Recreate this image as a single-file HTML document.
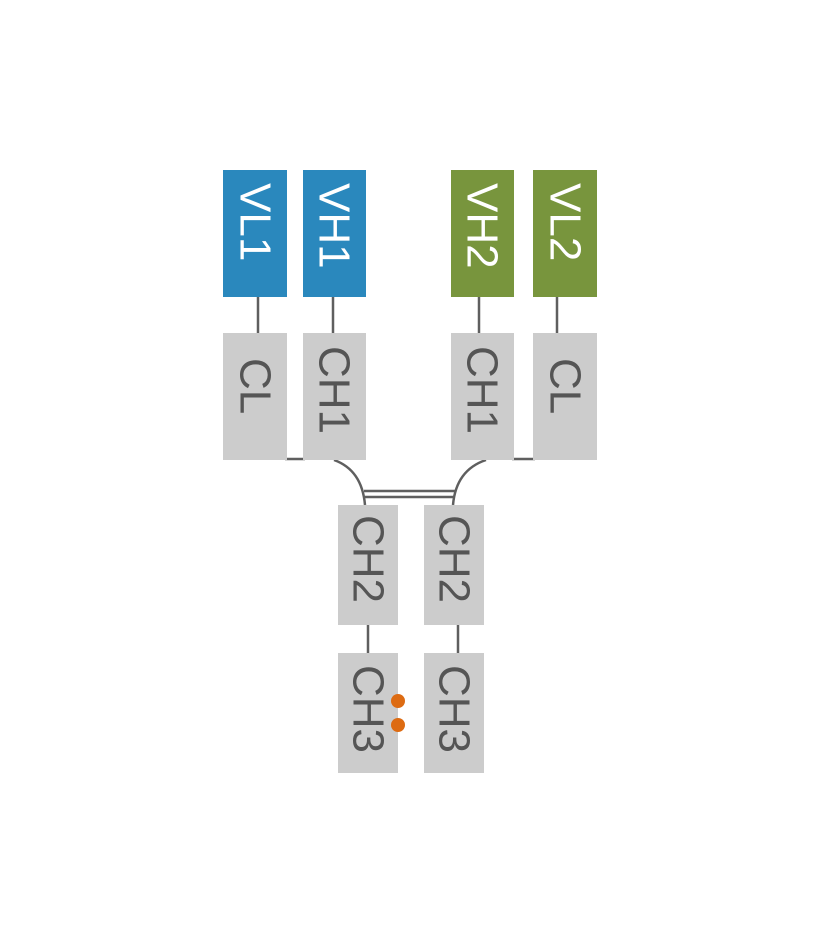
<!DOCTYPE html>
<html><head><meta charset="utf-8"><style>body{margin:0;background:#fff}</style></head>
<body>
<svg width="820" height="945" viewBox="0 0 820 945" xmlns="http://www.w3.org/2000/svg" font-family="Liberation Sans, sans-serif">
<g stroke="#5f5f5f" stroke-width="2.5" fill="none">
<line x1="258" y1="297" x2="258" y2="333"/>
<line x1="333" y1="297" x2="333" y2="333"/>
<line x1="479" y1="297" x2="479" y2="333"/>
<line x1="557" y1="297" x2="557" y2="333"/>
<line x1="285" y1="459" x2="305" y2="459"/>
<line x1="512" y1="459" x2="535" y2="459"/>
<path d="M334 460 Q362 470 365 505"/>
<path d="M486 460 Q456 470 453 505"/>
<line x1="364" y1="491" x2="455" y2="491"/>
<line x1="365" y1="497" x2="454" y2="497"/>
<line x1="368" y1="625" x2="368" y2="653"/>
<line x1="458" y1="625" x2="458" y2="653"/>
</g>
<rect x="223" y="170" width="64" height="127" fill="#2a88bd"/>
<rect x="303" y="170" width="63" height="127" fill="#2a88bd"/>
<rect x="451" y="170" width="63" height="127" fill="#78953d"/>
<rect x="533" y="170" width="64" height="127" fill="#78953d"/>
<rect x="223" y="333" width="64" height="127" fill="#cccccc"/>
<rect x="303" y="333" width="63" height="127" fill="#cccccc"/>
<rect x="451" y="333" width="63" height="127" fill="#cccccc"/>
<rect x="533" y="333" width="64" height="127" fill="#cccccc"/>
<rect x="338" y="505" width="60" height="120" fill="#cccccc"/>
<rect x="424" y="505" width="60" height="120" fill="#cccccc"/>
<rect x="338" y="653" width="60" height="120" fill="#cccccc"/>
<rect x="424" y="653" width="60" height="120" fill="#cccccc"/>
<g font-size="44" dominant-baseline="central">
<text transform="translate(255,183) rotate(90)" fill="#fff">VL1</text>
<text transform="translate(334,183) rotate(90)" fill="#fff">VH1</text>
<text transform="translate(482,183) rotate(90)" fill="#fff">VH2</text>
<text transform="translate(565,183) rotate(90)" fill="#fff">VL2</text>
<text transform="translate(255,358) rotate(90)" fill="#555">CL</text>
<text transform="translate(334,346) rotate(90)" fill="#555">CH1</text>
<text transform="translate(482,346) rotate(90)" fill="#555">CH1</text>
<text transform="translate(565,358) rotate(90)" fill="#555">CL</text>
<text transform="translate(368,515) rotate(90)" fill="#555">CH2</text>
<text transform="translate(454,515) rotate(90)" fill="#555">CH2</text>
<text transform="translate(368,665) rotate(90)" fill="#555">CH3</text>
<text transform="translate(454,665) rotate(90)" fill="#555">CH3</text>
</g>
<circle cx="398" cy="701" r="7" fill="#dd6b12"/>
<circle cx="398" cy="725" r="7" fill="#dd6b12"/>
</svg>
</body></html>
